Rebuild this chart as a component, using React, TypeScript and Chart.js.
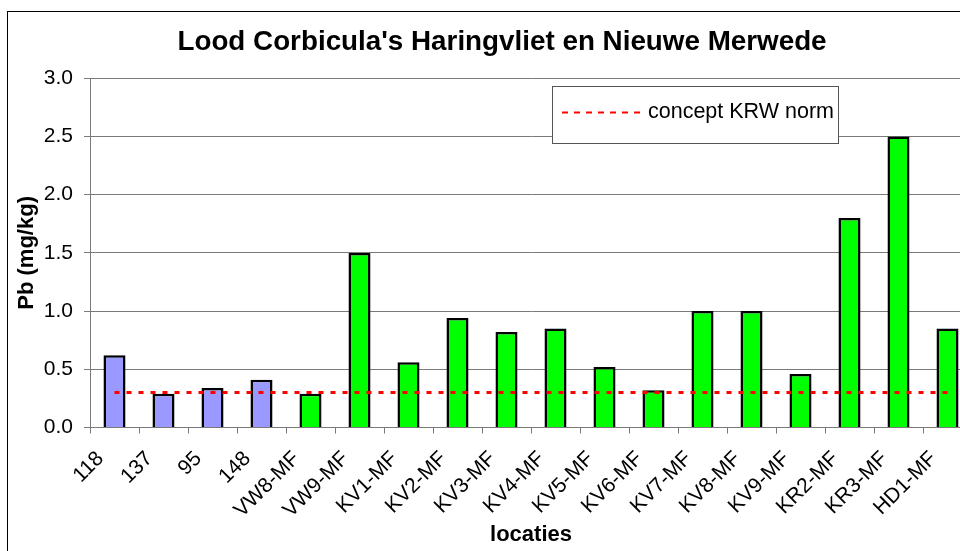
import React, { useEffect, useRef } from "react";
import { Chart, registerables } from "chart.js";

Chart.register(...registerables);

// ---- data ----
const categories = [
  "118", "137", "95", "148", "VW8-MF", "VW9-MF", "KV1-MF", "KV2-MF", "KV3-MF",
  "KV4-MF", "KV5-MF", "KV6-MF", "KV7-MF", "KV8-MF", "KV9-MF", "KR2-MF", "KR3-MF", "HD1-MF",
];
const pbValues = [
  0.62, 0.29, 0.34, 0.41, 0.29, 1.5, 0.56, 0.94, 0.82,
  0.85, 0.52, 0.32, 1.0, 1.0, 0.46, 1.8, 2.5, 0.85,
];
const normValue = 0.3;
const normLabel = "concept KRW norm";
const titleText = "Lood Corbicula's Haringvliet en Nieuwe Merwede";
const xTitle = "locaties";
const yTitle = "Pb (mg/kg)";
const yMin = 0;
const yMax = 3;
const yStep = 0.5;

const normSeries = categories.map(() => normValue);

// ---- styles ----
const FONT = "'Liberation Sans', Arial, Helvetica, sans-serif";
const GRAY = "#7a7a7a";
const BLUE = "#9999FF";
const GREEN = "#00FF00";
const RED = "#FF0000";
const barColors = categories.map((c) => (/-MF$/.test(c) ? GREEN : BLUE));

const W = 1000;
const H = 560;

const framePlugin = {
  id: "frame",
  beforeDraw(chart: any) {
    const ctx = chart.ctx;
    ctx.save();
    ctx.fillStyle = "#ffffff";
    ctx.fillRect(0, 0, chart.width, chart.height);
    ctx.strokeStyle = "#000000";
    ctx.lineWidth = 1;
    ctx.strokeRect(7.5, 11.5, chart.width + 20, chart.height + 20);
    ctx.restore();
  },
};

const boxLegendPlugin = {
  id: "boxLegend",
  afterDraw(chart: any) {
    const ctx = chart.ctx;
    const ds = chart.data.datasets[0];
    const x0 = 552.5;
    const y0 = 86.5;
    const w = 286;
    const h = 57;
    ctx.save();
    ctx.fillStyle = "#ffffff";
    ctx.fillRect(x0, y0, w, h);
    ctx.strokeStyle = "#555555";
    ctx.lineWidth = 1;
    ctx.strokeRect(x0, y0, w, h);
    const cy = y0 + 26;
    ctx.strokeStyle = ds.borderColor;
    ctx.lineWidth = 2;
    ctx.setLineDash([6, 6]);
    ctx.beginPath();
    ctx.moveTo(562, cy);
    ctx.lineTo(640, cy);
    ctx.stroke();
    ctx.setLineDash([]);
    ctx.fillStyle = "#000000";
    ctx.font = `21.5px ${FONT}`;
    ctx.textBaseline = "middle";
    ctx.textAlign = "left";
    ctx.fillText(ds.label, 648, cy);
    ctx.restore();
  },
};

export default function App() {
  const ref = useRef<HTMLCanvasElement | null>(null);

  useEffect(() => {
    if (!ref.current) return;
    const chart = new Chart(ref.current, {
      type: "bar",
      data: {
        labels: categories,
        datasets: [
          {
            type: "line",
            label: normLabel,
            data: normSeries,
            borderColor: RED,
            borderWidth: 3,
            borderDash: [5, 7],
            pointRadius: 0,
            fill: false,
            order: 0,
          } as any,
          {
            type: "bar",
            label: "Pb",
            data: pbValues,
            backgroundColor: barColors,
            borderColor: "#000000",
            borderWidth: 2.5,
            barPercentage: 0.9,
            categoryPercentage: 0.5,
            order: 1,
          } as any,
        ],
      },
      options: {
        responsive: false,
        animation: false,
        devicePixelRatio: 1,
        layout: { padding: { left: 32, right: W - 972, top: 15, bottom: 5 } },
        plugins: {
          legend: { display: false },
          tooltip: { enabled: false },
          title: {
            display: true,
            text: titleText,
            color: "#000000",
            font: { family: FONT, size: 27.8, weight: "bold" },
            padding: { top: 10.8, bottom: 19.1 },
          },
        },
        scales: {
          x: {
            offset: true,
            grid: {
              offset: true,
              drawOnChartArea: false,
              drawTicks: true,
              tickLength: 6,
              color: GRAY,
              lineWidth: 1,
            },
            border: { color: GRAY, width: 1 },
            ticks: {
              autoSkip: false,
              minRotation: 45,
              maxRotation: 45,
              labelOffset: -14,
              padding: 13,
              color: "#000000",
              font: { family: FONT, size: 21 },
            },
            title: {
              display: true,
              text: xTitle,
              color: "#000000",
              font: { family: FONT, size: 22, weight: "bold" },
              padding: { top: 0, bottom: 6.4 },
            },
            afterFit: (s: any) => {
              s.height = 127.5;
            },
          },
          y: {
            min: yMin,
            max: yMax,
            ticks: {
              stepSize: yStep,
              padding: 11,
              color: "#000000",
              font: { family: FONT, size: 21 },
              callback: (v: any) => Number(v).toFixed(1),
            },
            grid: { color: GRAY, lineWidth: 1, tickLength: 6 },
            border: { color: GRAY, width: 1 },
            title: {
              display: true,
              text: yTitle,
              color: "#000000",
              font: { family: FONT, size: 22, weight: "bold" },
              padding: { top: -18.6, bottom: 0 },
            },
            afterFit: (s: any) => {
              s.width = 58;
            },
          },
        },
      } as any,
      plugins: [framePlugin, boxLegendPlugin],
    });
    return () => chart.destroy();
  }, []);

  return (
    <div
      style={{
        position: "fixed",
        left: 0,
        top: 0,
        width: 960,
        height: 551,
        overflow: "hidden",
        background: "#ffffff",
      }}
    >
      <canvas
        ref={ref}
        width={W}
        height={H}
        style={{ display: "block", width: W, height: H }}
      />
    </div>
  );
}
